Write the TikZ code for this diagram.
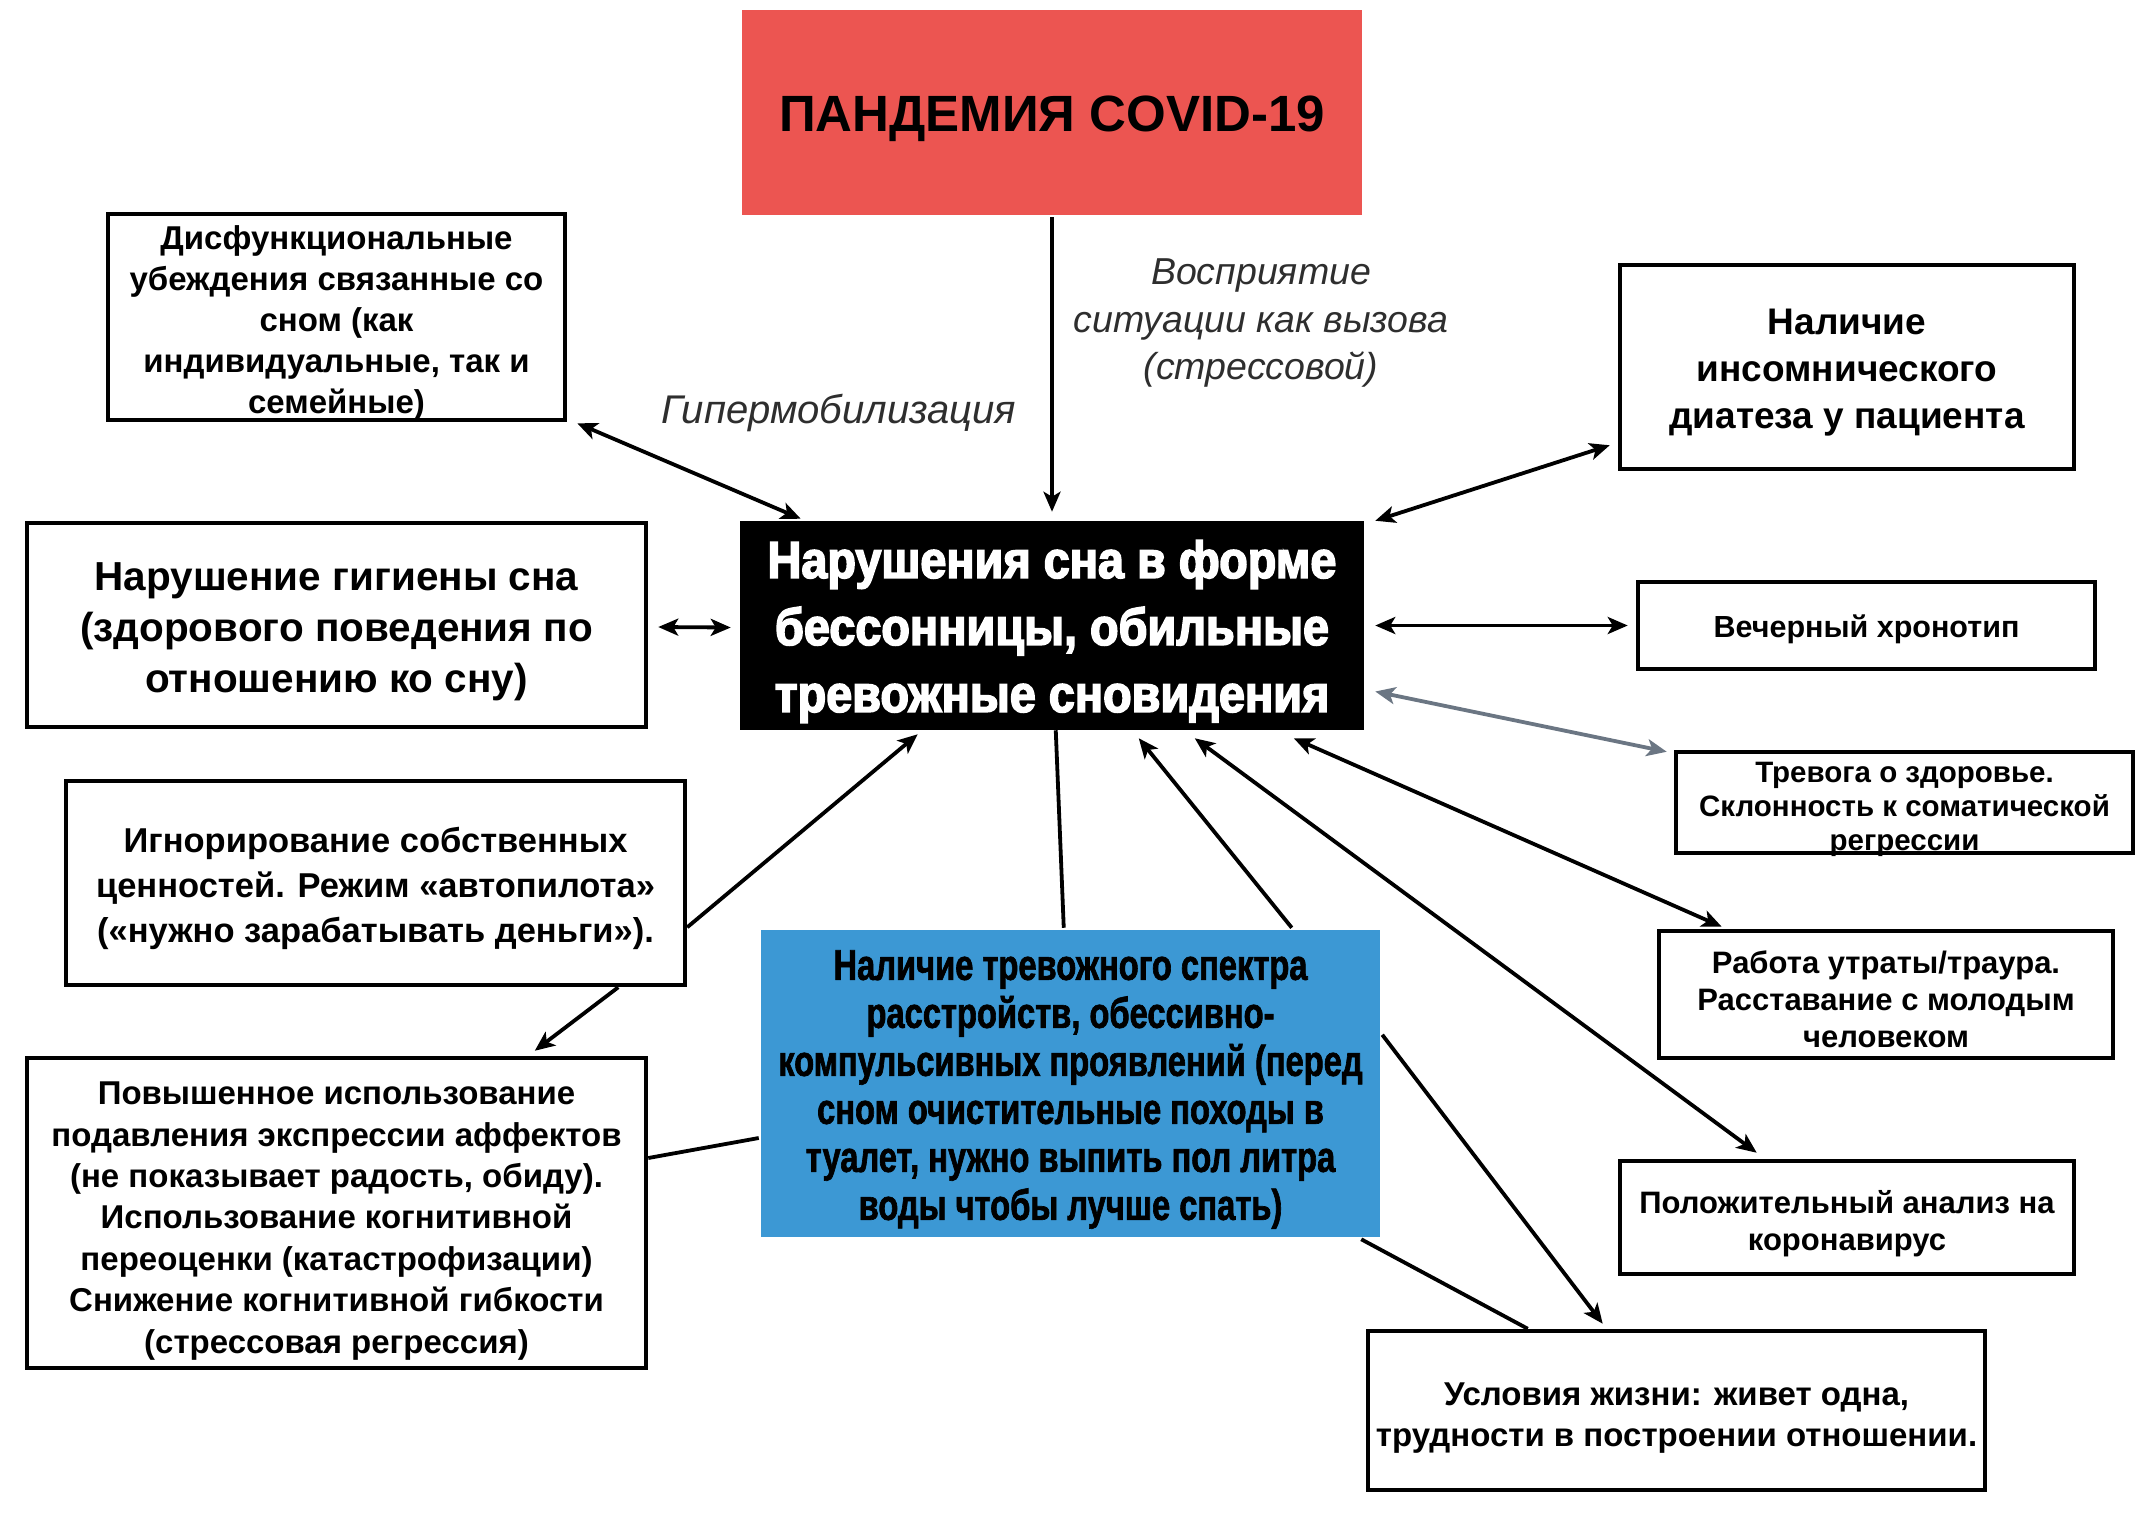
\documentclass[tikz,border=0pt]{standalone}
\usepackage{fontspec}
\setmainfont{Liberation Sans}
\newfontfamily\blackfont[FakeStretch=0.9,BoldFeatures={FakeBold=3}]{Liberation Sans}
\newfontfamily\condfont[FakeStretch=0.76,BoldFeatures={FakeBold=1.5}]{Liberation Sans}
\usetikzlibrary{arrows.meta,calc}
\definecolor{covidred}{HTML}{EC5551}
\definecolor{boxblue}{HTML}{3C98D4}
\definecolor{arrgray}{HTML}{6B7683}
\tikzset{
  box/.style={draw=black, line width=4.5pt, fill=white, inner sep=0pt},
  txt/.style={align=center, inner sep=0pt, text=black},
  lbl/.style={font=\itshape, text=black!82, align=center, inner sep=0pt},
  arr/.style={line width=3.8pt, draw=black},
}
\begin{document}
\begin{tikzpicture}[x=1pt,y=-1pt,>={Stealth[length=20pt,width=17pt,inset=5pt]}]
\fill[white] (0,0) rectangle (2151,1532);
\useasboundingbox (0,0) rectangle (2151,1532);

% boxes
\node[box, draw=none, fill=covidred, minimum width=620pt, minimum height=205pt] (red) at (1052,112.5) {};
\node[box, fill=black, minimum width=620pt, minimum height=205pt] (black) at (1052,625.5) {};
\node[box, draw=none, fill=boxblue, minimum width=619pt, minimum height=307pt] (blue) at (1070.5,1083.5) {};
\node[box, minimum width=457pt, minimum height=206pt] (dys) at (336.5,317) {};
\node[box, minimum width=619pt, minimum height=204pt] (hyg) at (336.5,625) {};
\node[box, minimum width=619pt, minimum height=204pt] (ign) at (375.5,883) {};
\node[box, minimum width=619pt, minimum height=310pt] (pov) at (336.5,1213) {};
\node[box, minimum width=454pt, minimum height=204pt] (ins) at (1847,367) {};
\node[box, minimum width=457pt, minimum height=87pt] (vech) at (1866.5,625.5) {};
\node[box, minimum width=457pt, minimum height=101pt] (trev) at (1904.5,802.5) {};
\node[box, minimum width=454pt, minimum height=127pt] (rab) at (1886,994.5) {};
\node[box, minimum width=454pt, minimum height=113pt] (pol) at (1847,1217.5) {};
\node[box, minimum width=617pt, minimum height=159pt] (usl) at (1676.5,1410.5) {};

% texts
\node[txt, font=\fontsize{51}{60}\selectfont\bfseries] (redT) at ($(red)+(0,6)$) {ПАНДЕМИЯ COVID-19};
\node[txt, text=white, font=\blackfont\fontsize{52}{67}\selectfont\bfseries] (blackT) at ($(black)+(0,6)$)
      {Нарушения сна в форме\\бессонницы, обильные\\тревожные сновидения};
\node[txt, font=\condfont\fontsize{43}{48}\selectfont\bfseries] (blueT) at ($(blue)+(0,6)$)
      {Наличие тревожного спектра\\расстройств, обессивно-\\компульсивных проявлений (перед\\сном очистительные походы в\\туалет, нужно выпить пол литра\\воды чтобы лучше спать)};
\node[txt, font=\fontsize{33}{41}\selectfont\bfseries] (dysT) at ($(dys)+(0,6)$)
      {Дисфункциональные\\убеждения связанные со\\сном (как\\индивидуальные, так и\\семейные)};
\node[txt, font=\fontsize{40.5}{51}\selectfont\bfseries] (hygT) at ($(hyg)+(0,7)$)
      {Нарушение гигиены сна\\(здорового поведения по\\отношению ко сну)};
\node[txt, font=\fontsize{34.5}{45}\selectfont\bfseries] (ignT) at ($(ign)+(0,5)$)
      {Игнорирование собственных\\ценностей. Режим «автопилота»\\(«нужно зарабатывать деньги»).};
\node[txt, font=\fontsize{33}{41.4}\selectfont\bfseries] (povT) at ($(pov)+(0,8)$)
      {Повышенное использование\\подавления экспрессии аффектов\\(не показывает радость, обиду).\\Использование когнитивной\\переоценки (катастрофизации)\\Снижение когнитивной гибкости\\(стрессовая регрессия)};
\node[txt, font=\fontsize{37}{47}\selectfont\bfseries] (insT) at ($(ins)+(0,6)$)
      {Наличие\\инсомнического\\диатеза у пациента};
\node[txt, font=\fontsize{30.5}{36}\selectfont\bfseries] (vechT) at ($(vech)+(0,4)$) {Вечерный хронотип};
\node[txt, font=\fontsize{29.5}{34}\selectfont\bfseries] (trevT) at ($(trev)+(0,7)$)
      {Тревога о здоровье.\\Склонность к соматической\\регрессии};
\node[txt, font=\fontsize{31}{37}\selectfont\bfseries] (rabT) at ($(rab)+(0,5)$)
      {Работа утраты/траура.\\Расставание с молодым\\человеком};
\node[txt, font=\fontsize{31}{37}\selectfont\bfseries] (polT) at ($(pol)+(0,6)$)
      {Положительный анализ на\\коронавирус};
\node[txt, font=\fontsize{33}{41}\selectfont\bfseries] (uslT) at ($(usl)+(0,8)$)
      {Условия жизни: живет одна,\\трудности в построении отношении.};

% italic labels
\node[lbl, font=\fontsize{40}{47}\selectfont\itshape] (hyper) at (839,413) {Гипермобилизация};
\node[lbl, font=\fontsize{37.5}{47.5}\selectfont\itshape] (vospr) at (1261,323) {Восприятие\\ситуации как вызова\\(стрессовой)};

% connectors
\draw[arr,->] (red.south) -- ($(black.north)+(0,-9)$);
\draw[arr,<->] ($(dys.south east)+(10,1)$) -- ($(black.north west)+(61,-2)$);
\draw[arr,<->] ($(hyg.east)+(10,2)$) -- ($(black.west)+(-9,2)$);
\draw[arr,<->] ($(black.north east)+(11,0)$) -- ($(ins.south west)+(-8,-26)$);
\draw[arr,<->] ($(black.east)+(11,0)$) -- ($(vech.west)+(-8,0)$);
\draw[arr,<->,draw=arrgray,color=arrgray] ($(black.east)+(11,66)$) -- ($(trev.north west)+(-7,2)$);
\draw[arr,<->] ($(black.south west)+(554,8)$) -- ($(rab.north west)+(65,-2)$);
\draw[arr,<->] ($(black.south west)+(455,8)$) -- ($(pol.north west)+(139,-6)$);
\draw[arr,->] ($(blue.north west)+(533,0)$) -- ($(black.south west)+(399,8)$);
\draw[arr] ($(black.south west)+(316,0)$) -- ($(blue.north west)+(305,0)$);
\draw[arr,->] ($(blue.north east)+(0,107)$) -- ($(usl.north west)+(237,-5)$);
\draw[arr] ($(blue.south east)+(-21,0)$) -- ($(usl.north west)+(162,0)$);
\draw[arr,->] ($(ign.south east)+(0,-60)$) -- ($(black.south west)+(178,4)$);
\draw[arr,->] ($(ign.south east)+(-69,0)$) -- ($(pov.north west)+(510,-5)$);
\draw[arr] ($(pov.east)+(0,-55)$) -- ($(blue.west)+(0,54.5)$);
\end{tikzpicture}
\end{document}
